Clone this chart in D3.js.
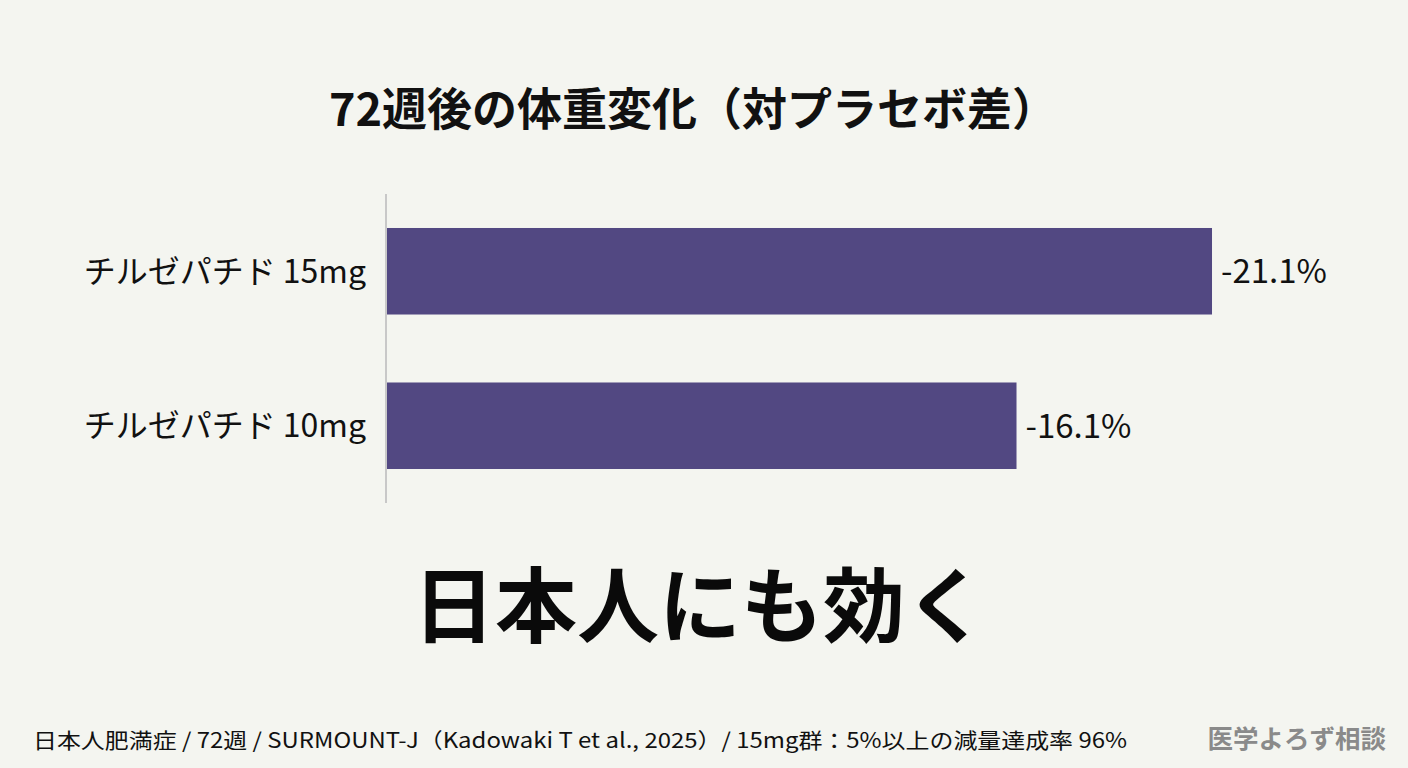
<!DOCTYPE html>
<html>
<head>
<meta charset="utf-8">
<script src="https://cdn.jsdelivr.net/npm/d3@7"></script>
<style>
  html, body { margin: 0; padding: 0; background: #f4f5f0; }
  svg { display: block; font-family: "Noto Sans CJK JP", "Noto Sans", sans-serif; }
</style>
</head>
<body>
<svg id="chart" width="1408" height="768"></svg>
<script>
// data
const categories = ["チルゼパチド 15mg", "チルゼパチド 10mg"];
const values = [21.1, 16.1];          // weight change vs placebo, % (shown negative)
const valueLabels = ["-21.1%", "-16.1%"];

const title = "72週後の体重変化（対プラセボ差）";
const headline = "日本人にも効く";
const footnote = "日本人肥満症 / 72週 / SURMOUNT-J（Kadowaki T et al., 2025）/ 15mg群：5%以上の減量達成率 96%";
const brand = "医学よろず相談";

const width = 1408, height = 768;
const svg = d3.select("#chart");

svg.append("rect")
    .attr("width", width)
    .attr("height", height)
    .attr("fill", "#f4f5f0");

const x = d3.scaleLinear()
    .domain([0, 22])
    .range([387, 387 + 22 * 39.1]);

const y = d3.scaleBand()
    .domain(categories)
    .range([194, 503])
    .paddingInner(0.44)
    .paddingOuter(0.22);

// title
svg.append("text")
    .attr("x", 693)
    .attr("y", 126)
    .attr("text-anchor", "middle")
    .attr("font-size", 45)
    .attr("font-weight", 700)
    .attr("fill", "#111")
    .text(title);

// bars
svg.append("g")
    .selectAll("rect")
    .data(values)
    .join("rect")
    .attr("x", x(0))
    .attr("y", (d, i) => y(categories[i]))
    .attr("width", d => x(d) - x(0))
    .attr("height", y.bandwidth())
    .attr("fill", "#524882");

// axis line
svg.append("line")
    .attr("x1", 386).attr("x2", 386)
    .attr("y1", y.range()[0]).attr("y2", y.range()[1])
    .attr("stroke", "#c8c8c8")
    .attr("stroke-width", 2);

// category labels
svg.append("g")
    .selectAll("text")
    .data(categories)
    .join("text")
    .attr("x", 366)
    .attr("y", d => y(d) + y.bandwidth() / 2)
    .attr("dy", "0.36em")
    .attr("text-anchor", "end")
    .attr("font-size", 32)
    .attr("fill", "#111")
    .text(d => d);

// value labels
svg.append("g")
    .selectAll("text")
    .data(values)
    .join("text")
    .attr("x", d => x(d) + 9)
    .attr("y", (d, i) => y(categories[i]) + y.bandwidth() / 2)
    .attr("dy", "0.36em")
    .attr("font-size", 33)
    .attr("fill", "#111")
    .text((d, i) => valueLabels[i]);

// headline
svg.append("text")
    .attr("x", 700)
    .attr("y", 636)
    .attr("text-anchor", "middle")
    .attr("font-size", 82)
    .attr("font-weight", 700)
    .attr("fill", "#0a0a0a")
    .text(headline);

// footer
svg.append("text")
    .attr("x", 33)
    .attr("y", 748)
    .attr("font-size", 21)
    .attr("fill", "#111")
    .attr("textLength", 1094)
    .attr("lengthAdjust", "spacingAndGlyphs")
    .text(footnote);

svg.append("text")
    .attr("x", 1386)
    .attr("y", 748)
    .attr("text-anchor", "end")
    .attr("font-size", 25.5)
    .attr("font-weight", 700)
    .attr("fill", "#8a8a8a")
    .text(brand);
</script>
</body>
</html>
